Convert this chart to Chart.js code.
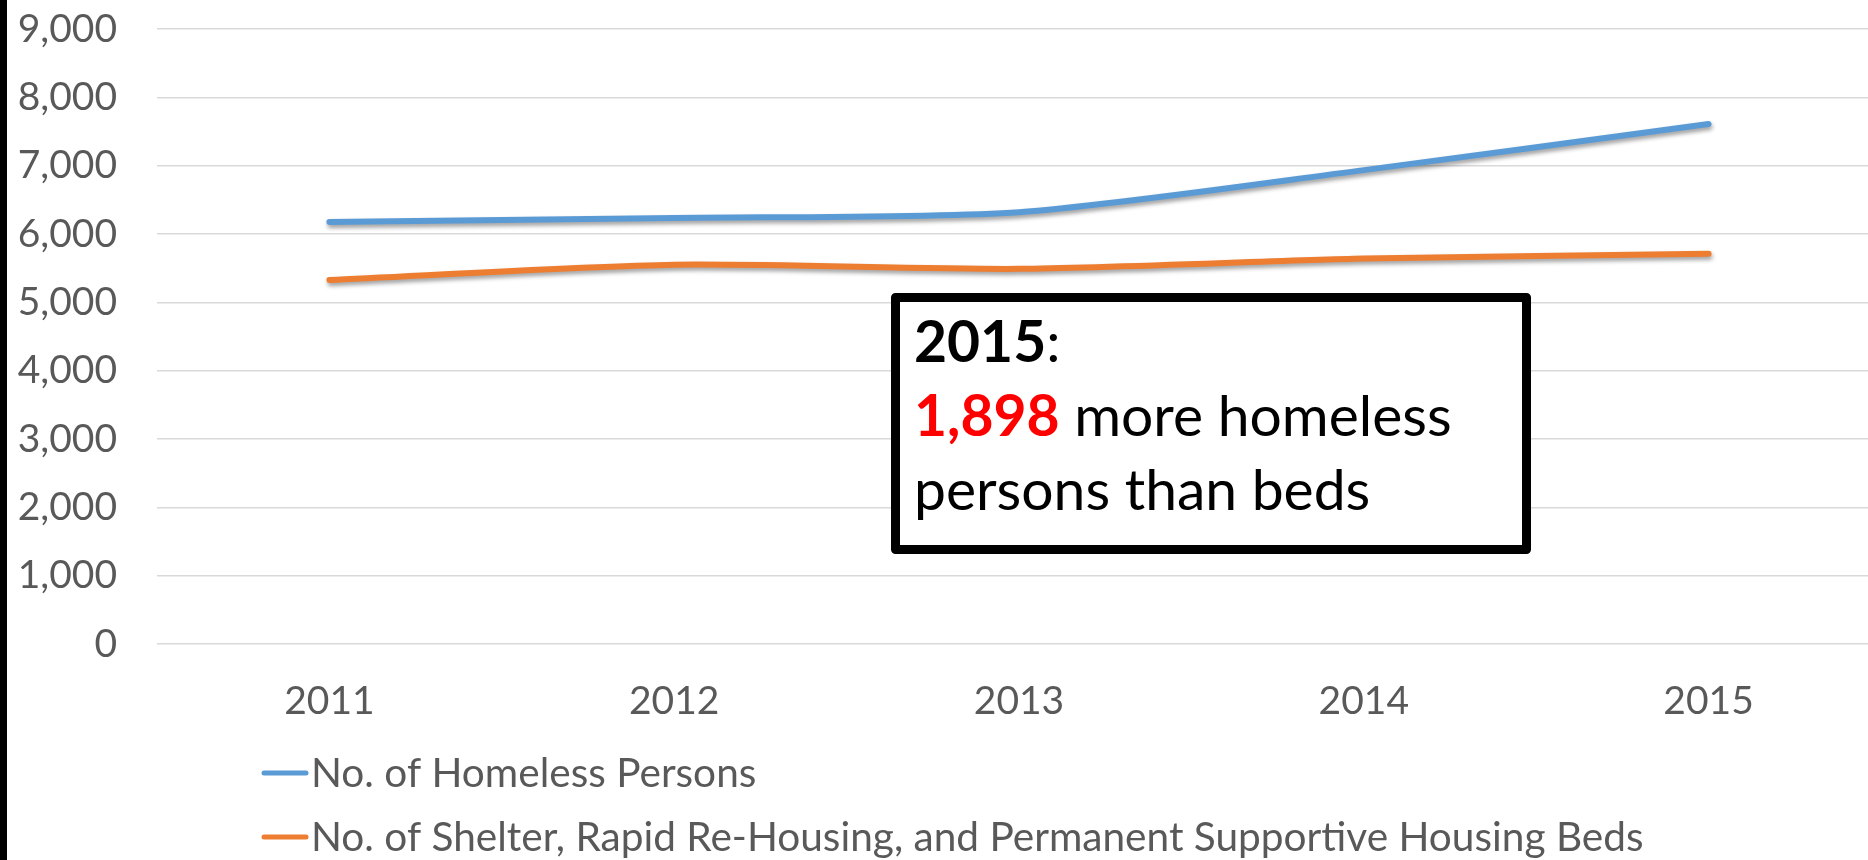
<!DOCTYPE html>
<html>
<head>
<meta charset="utf-8">
<script src="https://cdn.jsdelivr.net/npm/chart.js@4.4.1/dist/chart.umd.min.js"></script>
<style>
    html, body { margin: 0; padding: 0; background: #ffffff; overflow: hidden; }
    #wrap { position: relative; width: 1881px; height: 860px; }
    #leftBar { position: absolute; left: 0; top: 0; width: 7px; height: 860px; background: #000; z-index: 2; }
</style>
</head>
<body>
<div id="wrap">
    <div id="leftBar"></div>
    <canvas id="homelessChart" width="1881" height="860"></canvas>
</div>
<script>
// chart data
const years = ['2011', '2012', '2013', '2014', '2015'];
const homelessPersons = [6176, 6235, 6320, 6935, 7610];
const housingBeds = [5327, 5550, 5490, 5640, 5712];
const seriesLabels = [
    'No. of Homeless Persons',
    'No. of Shelter, Rapid Re-Housing, and Permanent Supportive Housing Beds'
];
const yMax = 9000;
const yStep = 1000;

// text for the call-out box
const noteYear = '2015';
const noteGap = '1,898';
const noteLines = [' more homeless', 'persons than beds'];

const FONT = 'Lato, Carlito, Calibri, sans-serif';
const GREY_TEXT = '#595959';

/**
 * Draws a soft shadow under the series lines, like the office chart does.
 */
const lineShadow = {
    id: 'lineShadow',
    beforeDatasetsDraw(chart) {
        const ctx = chart.ctx;
        ctx.save();
        ctx.shadowColor = 'rgba(0, 0, 0, 0.38)';
        ctx.shadowBlur = 4;
        ctx.shadowOffsetX = 1;
        ctx.shadowOffsetY = 3;
    },
    afterDatasetsDraw(chart) {
        chart.ctx.restore();
    }
};

/**
 * Legend stacked under the axis, one entry per row.
 */
const stackedLegend = {
    id: 'stackedLegend',
    afterDraw(chart) {
        const ctx = chart.ctx;
        const rows = [773, 837];
        ctx.save();
        chart.data.datasets.forEach((ds, i) => {
            const y = rows[i];
            ctx.strokeStyle = ds.borderColor;
            ctx.lineWidth = 5;
            ctx.lineCap = 'round';
            ctx.beginPath();
            ctx.moveTo(264, y);
            ctx.lineTo(306, y);
            ctx.stroke();
            ctx.fillStyle = GREY_TEXT;
            ctx.font = '40.6px ' + FONT;
            ctx.textBaseline = 'middle';
            ctx.textAlign = 'left';
            ctx.fillText(ds.label, 311, y + 1);
        });
        ctx.restore();
    }
};

/**
 * The black call-out box with the 2015 gap.
 */
const noteBox = {
    id: 'noteBox',
    afterDraw(chart) {
        const ctx = chart.ctx;
        const left = 891, top = 293, right = 1531, bottom = 554, border = 9;
        ctx.save();
        ctx.fillStyle = '#ffffff';
        ctx.fillRect(left, top, right - left, bottom - top);
        ctx.strokeStyle = '#000000';
        ctx.lineWidth = border;
        ctx.lineJoin = 'round';
        ctx.strokeRect(left + border / 2, top + border / 2, right - left - border, bottom - top - border);

        const x = 914;
        const size = 57;
        ctx.textBaseline = 'alphabetic';
        ctx.textAlign = 'left';

        ctx.font = 'bold ' + size + 'px ' + FONT;
        ctx.fillStyle = '#000000';
        ctx.fillText(noteYear, x, 362);
        let w = ctx.measureText(noteYear).width;
        ctx.font = size + 'px ' + FONT;
        ctx.fillText(':', x + w, 362);

        ctx.font = 'bold ' + size + 'px ' + FONT;
        ctx.fillStyle = '#ff0000';
        ctx.fillText(noteGap, x, 436);
        w = ctx.measureText(noteGap).width;
        ctx.font = size + 'px ' + FONT;
        ctx.fillStyle = '#000000';
        ctx.fillText(noteLines[0], x + w, 436);
        ctx.fillText(noteLines[1], x, 510);
        ctx.restore();
    }
};

const config = {
    type: 'line',
    data: {
        labels: years,
        datasets: [
            {
                label: seriesLabels[0],
                data: homelessPersons,
                borderColor: '#5b9bd5',
                backgroundColor: '#5b9bd5',
                borderWidth: 6,
                pointRadius: 0,
                tension: 0.25,
                borderCapStyle: 'round'
            },
            {
                label: seriesLabels[1],
                data: housingBeds,
                borderColor: '#ed7d31',
                backgroundColor: '#ed7d31',
                borderWidth: 6,
                pointRadius: 0,
                tension: 0.25,
                borderCapStyle: 'round'
            }
        ]
    },
    options: {
        responsive: false,
        animation: false,
        layout: {
            padding: { top: 29, left: 0, right: 0, bottom: 0 }
        },
        plugins: {
            legend: { display: false },
            tooltip: { enabled: false }
        },
        scales: {
            x: {
                offset: true,
                grid: { display: false },
                border: { display: false },
                ticks: {
                    color: GREY_TEXT,
                    font: { family: FONT, size: 39 },
                    padding: 26,
                    maxRotation: 0
                },
                afterFit(scale) {
                    scale.height = 216;
                    scale.paddingTop = 0;
                    scale.paddingBottom = 0;
                }
            },
            y: {
                min: 0,
                max: yMax,
                grid: {
                    color: '#d9d9d9',
                    lineWidth: 1.5,
                    drawTicks: false
                },
                border: { display: false },
                ticks: {
                    stepSize: yStep,
                    color: GREY_TEXT,
                    font: { family: FONT, size: 39 },
                    padding: 40,
                    callback: value => value.toLocaleString('en-US')
                },
                afterFit(scale) {
                    scale.width = 157;
                    scale.paddingTop = 0;
                    scale.paddingBottom = 0;
                }
            }
        }
    },
    plugins: [lineShadow, stackedLegend, noteBox]
};

new Chart(document.getElementById('homelessChart'), config);
</script>
</body>
</html>
